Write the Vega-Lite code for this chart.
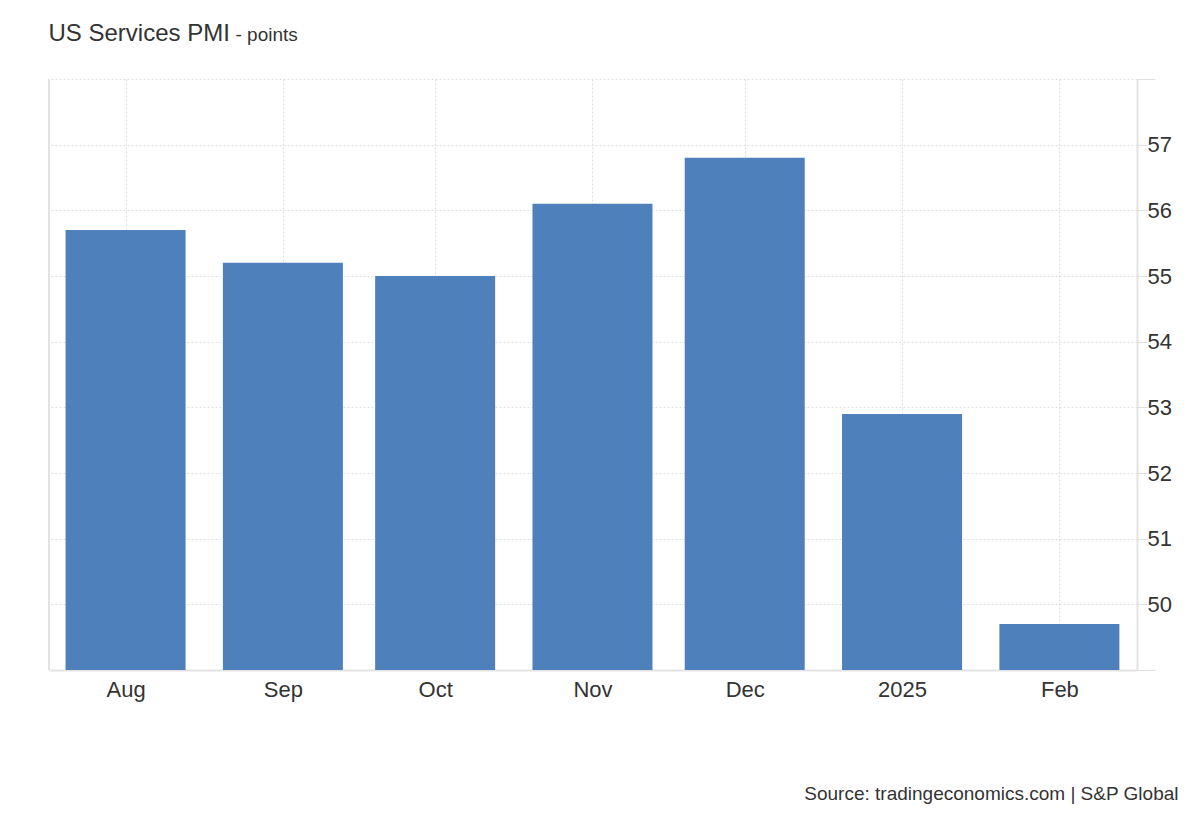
{
  "$schema": "https://vega.github.io/schema/vega-lite/v6.json",
  "autosize": {"type": "none"},
  "width": 1088,
  "height": 591,
  "padding": {"left": 49, "top": 79, "right": 63, "bottom": 150},
  "background": "white",
  "config": {
    "font": "Liberation Sans",
    "view": {"stroke": null}
  },
  "data": {
    "values": [
      {"date": "2024-08-01T00:00:00", "value": 55.7},
      {"date": "2024-09-01T00:00:00", "value": 55.2},
      {"date": "2024-10-01T00:00:00", "value": 55.0},
      {"date": "2024-11-01T00:00:00", "value": 56.1},
      {"date": "2024-12-01T00:00:00", "value": 56.8},
      {"date": "2025-01-01T00:00:00", "value": 52.9},
      {"date": "2025-02-01T00:00:00", "value": 49.7}
    ]
  },
  "resolve": {"axis": {"x": "independent"}},
  "layer": [
    {
      "mark": {"type": "bar", "size": 120, "color": "#4e80bc", "clip": true},
      "encoding": {
        "x": {
          "field": "date",
          "type": "temporal",
          "scale": {
            "domain": [
              {"year": 2024, "month": 7, "date": 16, "hours": 22},
              {"year": 2025, "month": 2, "date": 16, "hours": 7}
            ],
            "nice": false,
            "padding": 0
          },
          "axis": {
            "orient": "bottom",
            "title": "Source: tradingeconomics.com | S&P Global",
            "titleX": 1129,
            "titleY": 129,
            "titleAlign": "right",
            "titleAnchor": null,
            "titleBaseline": "alphabetic",
            "titleFontSize": 19,
            "titleFontWeight": "normal",
            "titleColor": "#333333",
            "values": [
              {"year": 2024, "month": 8, "date": 1},
              {"year": 2024, "month": 9, "date": 1},
              {"year": 2024, "month": 10, "date": 1},
              {"year": 2024, "month": 11, "date": 1},
              {"year": 2024, "month": 12, "date": 1},
              {"year": 2025, "month": 1, "date": 1},
              {"year": 2025, "month": 2, "date": 1}
            ],
            "labelExpr": "month(datum.value) == 0 ? timeFormat(datum.value, '%Y') : timeFormat(datum.value, '%b')",
            "labelFontSize": 22,
            "labelColor": "#333333",
            "labelPadding": 9,
            "labelFlush": false,
            "labelOverlap": false,
            "ticks": false,
            "domainColor": "#e3e3e3",
            "domainWidth": 2,
            "grid": true,
            "gridColor": "#dddddd",
            "gridDash": [2, 2],
            "gridWidth": 1
          }
        },
        "y": {
          "field": "value",
          "type": "quantitative",
          "scale": {"domain": [49, 58], "nice": false, "zero": false},
          "axis": {
            "orient": "right",
            "title": "- points",
            "titleAngle": 0,
            "titleX": -902,
            "titleY": -39,
            "titleAlign": "left",
            "titleBaseline": "alphabetic",
            "titleFontSize": 19,
            "titleFontWeight": "normal",
            "titleColor": "#333333",
            "values": [49, 50, 51, 52, 53, 54, 55, 56, 57, 58],
            "labelExpr": "datum.value >= 50 && datum.value <= 57 ? datum.label : ''",
            "labelFontSize": 22,
            "labelColor": "#333333",
            "labelPadding": 0,
            "tickSize": {"condition": {"test": "datum.value < 49.5 || datum.value > 57.5", "value": 18}, "value": 10},
            "tickColor": "#e0e0e0",
            "domainColor": "#e3e3e3",
            "domainWidth": 2,
            "grid": true,
            "gridColor": "#dddddd",
            "gridDash": [2, 2],
            "gridWidth": 1
          }
        }
      }
    },
    {
      "mark": {"type": "rule", "color": "#e3e3e3", "strokeWidth": 2},
      "encoding": {
        "x": {
          "datum": {"year": 2024, "month": 7, "date": 16, "hours": 22},
          "type": "temporal",
          "axis": {
            "orient": "top",
            "title": "US Services PMI",
            "titleX": -1,
            "titleY": -39,
            "titleAlign": "left",
            "titleAnchor": null,
            "titleBaseline": "alphabetic",
            "titleFontSize": 24,
            "titleFontWeight": "normal",
            "titleColor": "#333333",
            "domain": false,
            "ticks": false,
            "labels": false,
            "grid": false
          }
        }
      }
    }
  ]
}
